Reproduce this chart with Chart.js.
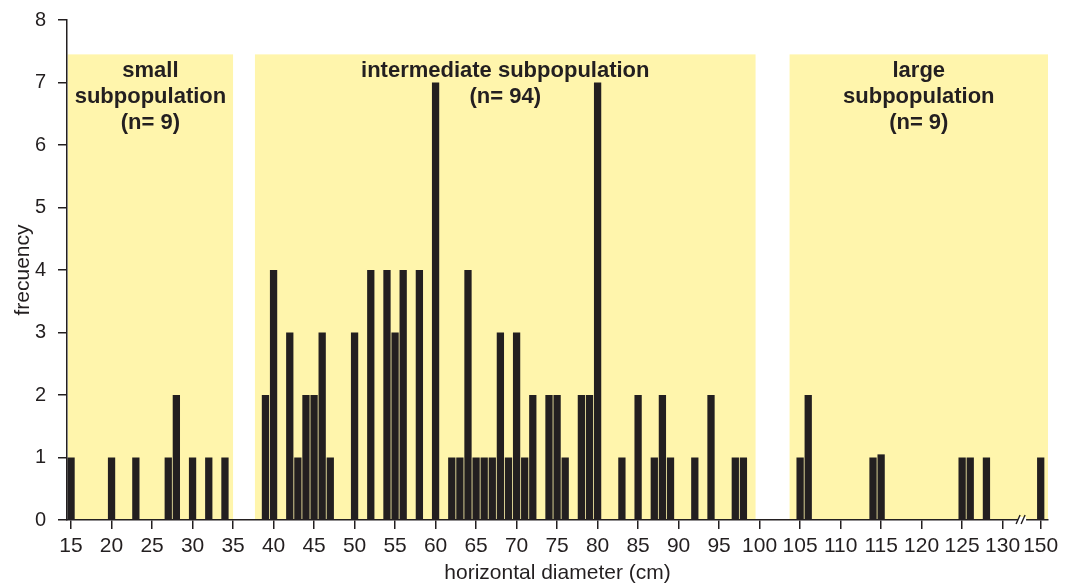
<!DOCTYPE html>
<html>
<head>
<meta charset="utf-8">
<script src="https://cdn.jsdelivr.net/npm/chart.js@4/dist/chart.umd.min.js"></script>
<style>
  html, body { margin: 0; padding: 0; background: #fff; }
  #wrap { width: 1076px; height: 584px; }
</style>
</head>
<body>
<div id="wrap"><canvas id="grafico"></canvas></div>
<script>
// horizontal diameter (cm) and how many trees had it
const diametros = [15, 20, 23, 27, 28, 30, 32, 34,
  39, 40, 42, 43, 44, 45, 46, 47, 50, 52, 54, 55, 56, 58, 60,
  62, 63, 64, 65, 66, 67, 68, 69, 70, 71, 72, 74, 75, 76, 78, 79, 80,
  83, 85, 87, 88, 89, 92, 94, 97, 98,
  105, 106, 114, 115, 125, 126, 128, 150];
const frecuencias = [1, 1, 1, 1, 2, 1, 1, 1,
  2, 4, 3, 1, 2, 2, 3, 1, 3, 4, 4, 3, 4, 4, 7,
  1, 1, 4, 1, 1, 1, 3, 1, 3, 1, 2, 2, 2, 1, 2, 2, 7,
  1, 2, 1, 2, 1, 1, 2, 1, 1,
  1, 2, 1, 1.05, 1, 1, 1, 1];

const marcasX = [15, 20, 25, 30, 35, 40, 45, 50, 55, 60, 65, 70, 75, 80, 85, 90, 95, 100,
  105, 110, 115, 120, 125, 130, 150];

// subpopulation bands (cm) and their labels
const faixaInicio = [14.6, 37.7, 103.7];
const faixaFim = [35, 99.5, 150.9];
const faixaTopo = 7.45;
const faixaTextos = [
  ['small', 'subpopulation', '(n= 9)'],
  ['intermediate subpopulation', '(n= 94)'],
  ['large', 'subpopulation', '(n= 9)']
];

// axis is cut between 130 and 150
const corte = 130;
const salto = 15.3;
const corteMarca = 132.4;
function noEixo(v) { return v > corte ? v - salto : v; }
function doEixo(v) { return v > corte ? v + salto : v; }

const cor = '#231f20';
const amarelo = '#fff5ac';
const fonte = '"Liberation Sans", Arial, sans-serif';

const faixasPlugin = {
  id: 'faixas',
  beforeDraw(chart) {
    // yellow bands go under the axes
    const ctx = chart.ctx, x = chart.scales.x, y = chart.scales.y;
    ctx.save();
    ctx.fillStyle = amarelo;
    faixaInicio.forEach((ini, i) => {
      const x0 = x.getPixelForValue(noEixo(ini));
      const x1 = x.getPixelForValue(noEixo(faixaFim[i]));
      const y0 = y.getPixelForValue(faixaTopo);
      const y1 = y.getPixelForValue(0);
      ctx.fillRect(x0, y0, x1 - x0, y1 - y0);
    });
    ctx.restore();
  },
  afterDatasetsDraw(chart) {
    const ctx = chart.ctx, x = chart.scales.x, y = chart.scales.y;
    ctx.save();
    ctx.fillStyle = cor;
    ctx.font = 'bold 22px ' + fonte;
    ctx.textAlign = 'center';
    ctx.textBaseline = 'alphabetic';
    faixaTextos.forEach((linhas, i) => {
      const cx = x.getPixelForValue((noEixo(faixaInicio[i]) + noEixo(faixaFim[i])) / 2);
      const topo = y.getPixelForValue(faixaTopo);
      linhas.forEach((t, j) => ctx.fillText(t, cx, topo + 23 + j * 26));
    });
    ctx.restore();
  },
  afterDraw(chart) {
    // the // mark on the x axis
    const ctx = chart.ctx, x = chart.scales.x;
    const px = x.getPixelForValue(corteMarca);
    const py = chart.chartArea.bottom;
    ctx.save();
    ctx.fillStyle = '#fff';
    ctx.fillRect(px - 4, py - 3, 8, 6);
    ctx.strokeStyle = cor;
    ctx.lineWidth = 1.4;
    ctx.beginPath();
    ctx.moveTo(px - 6, py + 4); ctx.lineTo(px - 2, py - 5);
    ctx.moveTo(px - 1, py + 4); ctx.lineTo(px + 3, py - 5);
    ctx.stroke();
    ctx.restore();
  }
};

new Chart(document.getElementById('grafico'), {
  type: 'bar',
  data: {
    datasets: [{
      data: diametros.map((d, i) => ({ x: noEixo(d), y: frecuencias[i] })),
      backgroundColor: cor,
      borderWidth: 0,
      barPercentage: 0.9,
      categoryPercentage: 1
    }]
  },
  options: {
    responsive: true,
    maintainAspectRatio: false,
    animation: false,
    layout: { padding: { top: 20, right: 28, bottom: 0, left: 0 } },
    plugins: { legend: { display: false }, tooltip: { enabled: false } },
    scales: {
      x: {
        type: 'linear',
        offset: false,
        min: 14.5,
        max: noEixo(150.9),
        afterFit(s) { s.height = 64; },
        afterBuildTicks(s) { s.ticks = marcasX.map(v => ({ value: noEixo(v) })); },
        ticks: {
          autoSkip: false, maxRotation: 0, padding: 5,
          color: cor, font: { size: 21, family: fonte },
          callback: v => Math.round(doEixo(v))
        },
        grid: { offset: false, drawOnChartArea: false, drawTicks: true, tickLength: 9, color: cor, lineWidth: 1.5 },
        border: { display: true, color: cor, width: 1.5 },
        title: {
          display: true, text: 'horizontal diameter (cm)', color: cor,
          font: { size: 21, family: fonte, lineHeight: 1 },
          padding: { top: 0, bottom: 0 }
        }
      },
      y: {
        min: 0,
        max: 8,
        afterFit(s) { s.width = 67; s.paddingTop = 0; s.paddingBottom = 0; },
        ticks: {
          stepSize: 1, padding: 12, color: cor,
          font: { size: 20, family: fonte }
        },
        grid: { drawOnChartArea: false, drawTicks: true, tickLength: 9, color: cor, lineWidth: 1.5 },
        border: { display: true, color: cor, width: 1.5 },
        title: {
          display: true, text: 'frecuency', color: cor,
          font: { size: 21, family: fonte },
          padding: { top: 11, bottom: 0 }
        }
      }
    }
  },
  plugins: [faixasPlugin]
});
</script>
</body>
</html>
